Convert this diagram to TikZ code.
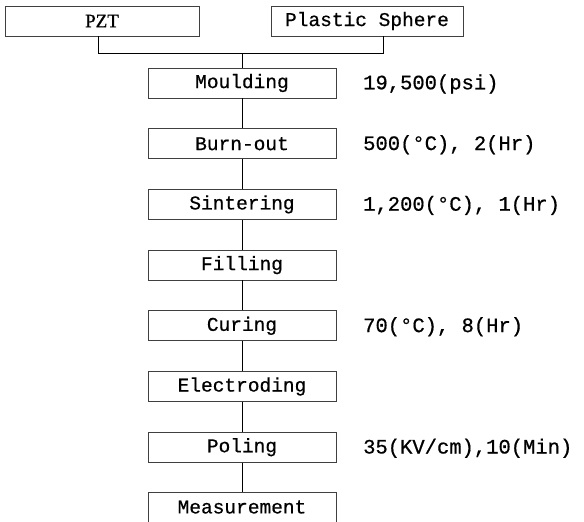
\documentclass[tikz,border=0pt]{standalone}
\usepackage{fontspec}
\setmainfont[FakeBold=0.6]{Liberation Mono}
\newfontfamily\pztfont[FakeBold=1]{Liberation Serif}
\begin{document}
\begin{tikzpicture}[x=1pt,y=-1pt,
  stepbox/.style={draw=black!75, line width=0.7pt, minimum width=188pt, minimum height=30pt, inner sep=0pt, font=\fontsize{19.5}{21}\selectfont},
  topbox/.style={draw=black!75, line width=0.7pt, minimum height=30pt, inner sep=0pt, font=\fontsize{19.5}{21}\selectfont},
  cond/.style={anchor=west, inner sep=0pt, font=\fontsize{20.5}{22}\selectfont},
  link/.style={draw=black, line width=0.8pt}]
\useasboundingbox (0,0) rectangle (584,522);
\node[topbox, minimum width=194pt] (pzt) at (102,21) {\pztfont\fontsize{19}{21}\selectfont PZT};
\node[topbox, minimum width=192pt] (ps) at (367,21) {Plastic Sphere};
\node[stepbox] (s1) at (242,83) {Moulding};
\node[stepbox] (s2) at (242,143.7) {Burn-out};
\node[stepbox] (s3) at (242,204.4) {Sintering};
\node[stepbox] (s4) at (242,265.1) {Filling};
\node[stepbox] (s5) at (242,325.8) {Curing};
\node[stepbox] (s6) at (242,386.5) {Electroding};
\node[stepbox] (s7) at (242,447.2) {Poling};
\node[stepbox] (s8) at (242,507.0) {Measurement};
\node[cond] (c1) at (363,84) {19,500(psi)};
\node[cond] (c2) at (363,144.7) {500(°C), 2(Hr)};
\node[cond] (c3) at (363,205.4) {1,200(°C), 1(Hr)};
\node[cond] (c5) at (363,326.8) {70(°C), 8(Hr)};
\node[cond] (c7) at (363,448.2) {35(KV/cm),10(Min)};
\coordinate (j) at (242,53);
\draw[link] ([xshift=-4pt]pzt.south) |- (j);
\draw[link] ([xshift=16pt]ps.south) |- (j);
\draw[link] (j) -- (s1.north);
\foreach \a/\b in {s1/s2,s2/s3,s3/s4,s4/s5,s5/s6,s6/s7,s7/s8}
  \draw[link] (\a.south) -- (\b.north);
\end{tikzpicture}
\end{document}
